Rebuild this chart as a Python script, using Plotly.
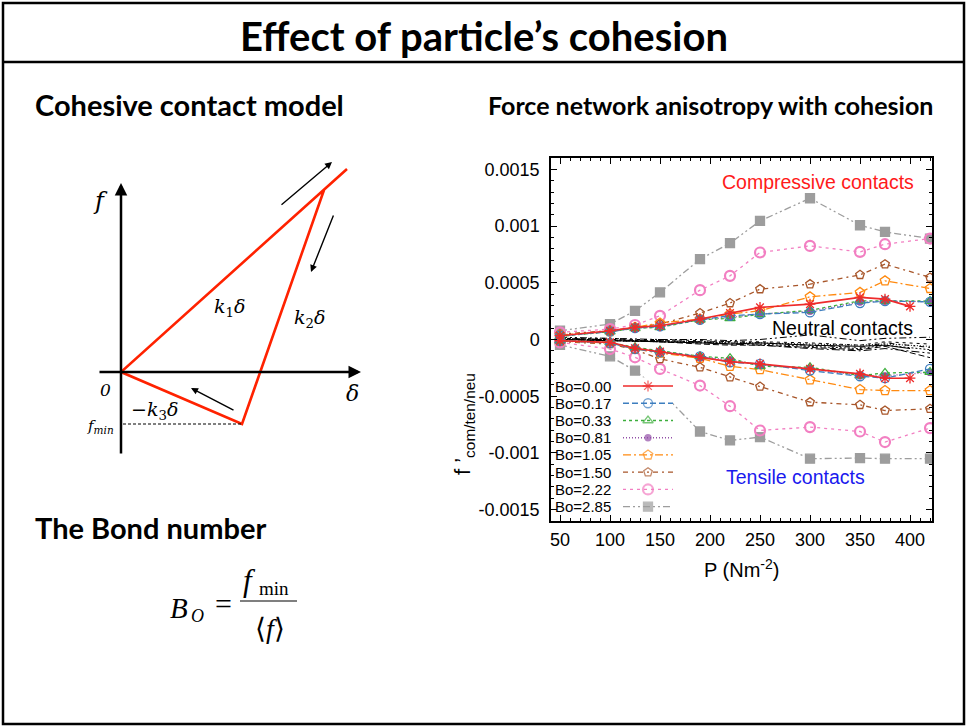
import plotly.graph_objects as go

W, H = 968, 727

# ---------------- chart data: f' (x1e-3) versus confining pressure P ----------------
P_full = [50, 100, 125, 150, 190, 220, 250, 300, 350, 375, 420]
P_bo0 = [50, 100, 125, 150, 190, 220, 250, 300, 350, 375, 400]

bond_numbers = ["0.00", "0.17", "0.33", "0.81", "1.05", "1.50", "2.22", "2.85"]

com_000 = [0.033, 0.077, 0.107, 0.121, 0.180, 0.233, 0.283, 0.312, 0.371, 0.356, 0.292]
com_017 = [0.033, 0.069, 0.101, 0.116, 0.174, 0.209, 0.224, 0.239, 0.321, 0.339, 0.332]
com_033 = [0.028, 0.069, 0.099, 0.107, 0.174, 0.186, 0.222, 0.257, 0.341, 0.341, 0.339]
com_081 = [0.030, 0.070, 0.100, 0.110, 0.175, 0.195, 0.225, 0.250, 0.330, 0.338, 0.334]
com_105 = [0.040, 0.069, 0.107, 0.145, 0.180, 0.224, 0.253, 0.376, 0.415, 0.517, 0.450]
com_150 = [0.048, 0.077, 0.107, 0.136, 0.233, 0.321, 0.444, 0.488, 0.570, 0.664, 0.547]
com_222 = [0.063, 0.092, 0.128, 0.209, 0.435, 0.561, 0.767, 0.825, 0.772, 0.840, 0.890]
com_285 = [0.077, 0.136, 0.253, 0.415, 0.708, 0.849, 1.045, 1.245, 1.007, 0.948, 0.890]

ten_000 = [-0.011, -0.025, -0.077, -0.107, -0.157, -0.195, -0.215, -0.259, -0.303, -0.341, -0.341]
ten_017 = [-0.011, -0.031, -0.084, -0.113, -0.148, -0.201, -0.215, -0.274, -0.324, -0.341, -0.259]
ten_033 = [-0.011, -0.025, -0.069, -0.098, -0.148, -0.165, -0.236, -0.245, -0.318, -0.295, -0.288]
ten_081 = [-0.011, -0.028, -0.075, -0.105, -0.150, -0.180, -0.225, -0.255, -0.320, -0.320, -0.290]
ten_105 = [-0.013, -0.031, -0.084, -0.119, -0.165, -0.236, -0.266, -0.356, -0.441, -0.450, -0.450]
ten_150 = [-0.019, -0.040, -0.090, -0.171, -0.245, -0.333, -0.415, -0.552, -0.576, -0.626, -0.611]
ten_222 = [-0.025, -0.084, -0.157, -0.259, -0.406, -0.588, -0.802, -0.772, -0.811, -0.904, -0.781]
ten_285 = [-0.048, -0.148, -0.274, -0.450, -0.811, -0.890, -0.860, -1.051, -1.045, -1.051, -1.051]

neu_000 = [0.00, -0.01, -0.01, -0.02, -0.03, -0.04, -0.03, -0.05, -0.06, -0.05, -0.08]
neu_017 = [0.00, -0.01, -0.02, -0.02, -0.04, -0.05, -0.05, -0.07, -0.09, -0.06, -0.16]
neu_033 = [0.01, 0.00, -0.01, -0.02, -0.03, -0.03, -0.04, -0.06, -0.08, -0.05, -0.09]
neu_081 = [0.00, -0.01, -0.01, -0.02, -0.02, -0.03, -0.03, -0.04, -0.05, -0.04, -0.06]
neu_105 = [0.00, 0.00, -0.01, -0.01, -0.02, -0.04, -0.05, -0.08, -0.10, -0.08, -0.12]
neu_150 = [0.01, 0.00, 0.00, -0.01, -0.02, -0.02, -0.03, -0.05, -0.07, -0.03, -0.07]
neu_222 = [0.01, 0.01, 0.00, 0.00, -0.01, -0.02, -0.02, -0.03, -0.05, -0.02, -0.04]
neu_285 = [0.02, 0.01, 0.01, 0.00, 0.00, -0.01, 0.00, 0.04, -0.01, 0.01, 0.02]

y_ticks = [-0.0015, -0.001, -0.0005, 0, 0.0005, 0.001, 0.0015]
y_tick_labels = ["-0.0015", "-0.001", "-0.0005", "0", "0.0005", "0.001", "0.0015"]
x_ticks = [50, 100, 150, 200, 250, 300, 350, 400]

# ---------------- cohesive contact law (schematic units) ----------------
law_delta = [22.6, 0.0, 12.1, 20.3]
law_force = [20.3, 0.0, -5.2, 18.2]
f_min = -5.2
delta_at_fmin = 12.1

# per-series style
styles = {
    "0.00": dict(color="#ee2b2b", dash="solid", symbol="asterisk-open", size=9, lw=1.6),
    "0.17": dict(color="#3d7ebf", dash="6px,3px", symbol="circle-open", size=9, lw=1.3),
    "0.33": dict(color="#3cae3c", dash="3px,3px", symbol="triangle-up-open", size=9, lw=1.3),
    "0.81": dict(color="#9350a8", dash="1px,2px", symbol="circle", size=6, lw=1.3),
    "1.05": dict(color="#ff8a10", dash="8px,3px,2px,3px", symbol="pentagon-open", size=10, lw=1.3),
    "1.50": dict(color="#a8562a", dash="5px,4px,2px,4px", symbol="pentagon-open", size=9, lw=1.3),
    "2.22": dict(color="#f27fc2", dash="3px,4px", symbol="circle-open", size=10, lw=1.3),
    "2.85": dict(color="#9d9d9d", dash="7px,3px,2px,3px,2px,3px", symbol="square", size=9, lw=1.3),
}
neutral_dashes = ["solid", "6px,3px", "2px,2px", "1px,2px", "8px,3px,2px,3px",
                  "5px,4px,2px,4px", "3px,4px", "7px,3px,2px,3px,2px,3px"]

com = [com_000, com_017, com_033, com_081, com_105, com_150, com_222, com_285]
ten = [ten_000, ten_017, ten_033, ten_081, ten_105, ten_150, ten_222, ten_285]
neu = [neu_000, neu_017, neu_033, neu_081, neu_105, neu_150, neu_222, neu_285]

fig = go.Figure()

# neutral contacts first (black, underneath)
for i, bo in enumerate(bond_numbers):
    P = P_bo0 if bo == "0.00" else P_full
    fig.add_trace(go.Scatter(
        x=P, y=[v * 1e-3 for v in neu[i]], mode="lines",
        line=dict(color="black", width=1, dash=neutral_dashes[i]),
        showlegend=False, hoverinfo="skip", xaxis="x", yaxis="y"))

# compressive and tensile branches, drawn from the largest Bond number down
for i in reversed(range(len(bond_numbers))):
    bo = bond_numbers[i]
    st = styles[bo]
    P = P_bo0 if bo == "0.00" else P_full
    for series in (com[i], ten[i]):
        fig.add_trace(go.Scatter(
            x=P, y=[v * 1e-3 for v in series], mode="lines+markers",
            line=dict(color=st["color"], width=st["lw"], dash=st["dash"]),
            marker=dict(symbol=st["symbol"], size=st["size"], color=st["color"],
                        line=dict(color=st["color"], width=2.2 if bo == "2.22" else 1.3)),
            showlegend=False, name="Bo=" + bo, xaxis="x", yaxis="y"))

# key samples, one row per Bond number
for i, bo in enumerate(bond_numbers):
    st = styles[bo]
    fig.add_trace(go.Scatter(
        x=[0, 0.5, 1], y=[i, i, i], mode="lines+markers",
        line=dict(color=st["color"], width=st["lw"], dash=st["dash"]),
        marker=dict(symbol=st["symbol"], size=[0, st["size"], 0], color=st["color"],
                    line=dict(color=st["color"], width=2.2 if bo == "2.22" else 1.3)),
        showlegend=False, hoverinfo="skip", xaxis="x3", yaxis="y3"))

# contact law diagram
fig.add_trace(go.Scatter(
    x=law_delta, y=law_force, mode="lines",
    line=dict(color="#ff2200", width=2.6), showlegend=False, hoverinfo="skip",
    xaxis="x2", yaxis="y2"))
fig.add_trace(go.Scatter(
    x=[0.2, delta_at_fmin], y=[f_min, f_min], mode="lines",
    line=dict(color="black", width=1, dash="3px,2px"), showlegend=False,
    hoverinfo="skip", xaxis="x2", yaxis="y2"))


def px(x):
    return x / W


def py(y):
    return 1 - y / H


annotations = []
shapes = []


def ptext(t, x, y, family, size, color="black", anchor="center", angle=0):
    annotations.append(dict(text=t, x=px(x), y=py(y), xref="paper", yref="paper",
                            showarrow=False, xanchor=anchor, yanchor="middle",
                            textangle=angle, font=dict(family=family, size=size, color=color)))


# slide frame and heading bar
shapes.append(dict(type="rect", xref="paper", yref="paper", x0=px(3), x1=px(964),
                   y0=py(724), y1=py(3), line=dict(color="black", width=2.5)))
shapes.append(dict(type="line", xref="paper", yref="paper", x0=px(3), x1=px(964),
                   y0=py(62), y1=py(62), line=dict(color="black", width=2.5)))

HEAD = "Lato"
ptext("<b>Effect of particle’s cohesion</b>", 484, 36, HEAD, 40)
ptext("<b>Cohesive contact model</b>", 33, 104, HEAD, 29, anchor="left")
ptext("<b>The Bond number</b>", 33, 527, HEAD, 29, anchor="left")
ptext("<b>Force network anisotropy with cohesion</b>", 486, 105, HEAD, 25, anchor="left")

# Bond number formula
SERIF = "Liberation Serif"
ptext("<i>B</i>", 179, 608, SERIF, 29)
ptext("<i>O</i>", 197, 616, SERIF, 18)
ptext("=", 223, 603, SERIF, 30)
ptext("<i>f</i>", 250, 580, SERIF, 31)
ptext("min", 274, 588, SERIF, 19)
ptext("⟨<i>f</i>⟩", 270, 628, SERIF, 28)
shapes.append(dict(type="line", xref="paper", yref="paper", x0=px(240), x1=px(297),
                   y0=py(601), y1=py(601), line=dict(color="black", width=1.2)))


# diagram axes and arrows
def arrow(x0, y0, x1, y1, width):
    annotations.append(dict(x=x1, y=y1, ax=x0, ay=y0, xref="x2", yref="y2",
                            axref="x2", ayref="y2", text="", showarrow=True,
                            arrowhead=2, arrowsize=1.0, arrowwidth=width,
                            arrowcolor="black"))


arrow(0, -8.3, 0, 18.9, 2.5)
arrow(-2.3, 0, 24.0, 0, 2.5)
arrow(15.9, 16.6, 21.1, 21.0, 1.4)
arrow(21.3, 15.8, 19.0, 10.0, 1.4)
arrow(11.4, -3.9, 7.0, -1.6, 1.4)

MATH = "DejaVu Serif"


def dlabel(t, x, y, size, anchor="center"):
    annotations.append(dict(text=t, x=x, y=y, xref="x2", yref="y2", showarrow=False,
                            xanchor=anchor, yanchor="middle",
                            font=dict(family=MATH, size=size, color="black")))


dlabel("<i>f</i>", -2.1, 17.1, 24)
dlabel("<i>δ</i>", 23.1, -2.1, 22)
dlabel("<i>0</i>", -1.6, -1.8, 17)
dlabel("<i>k</i><sub>1</sub><i>δ</i>", 10.8, 6.5, 19)
dlabel("<i>k</i><sub>2</sub><i>δ</i>", 18.8, 5.4, 19)
dlabel("−<i>k</i><sub>3</sub><i>δ</i>", 3.3, -3.8, 19)
dlabel("<i>f</i><sub><i>min</i></sub>", -0.5, -5.4, 15, anchor="right")

# chart labels
SANS = "Liberation Sans"
ptext("P (Nm<sup>-2</sup>)", 741, 568, SANS, 20)
ptext("f ’<sub>com/ten/neu</sub>", 464, 424, SANS, 22, angle=-90)
ptext("Compressive contacts", 818, 182, SANS, 19.5, color="#ff1a1a")
ptext("Neutral contacts", 842, 328, SANS, 19.5)
ptext("Tensile contacts", 795, 477, SANS, 19.5, color="#1a1aee")
for i, bo in enumerate(bond_numbers):
    annotations.append(dict(text="Bo=" + bo, x=px(613), y=i, xref="paper", yref="y3",
                            xanchor="right", yanchor="middle", showarrow=False,
                            font=dict(family=SANS, size=15, color="black")))

tick_font = dict(family=SANS, size=18, color="black")
fig.update_layout(
    width=W, height=H, margin=dict(l=0, r=0, t=0, b=0),
    paper_bgcolor="white", plot_bgcolor="white", showlegend=False,
    xaxis=dict(domain=[px(551), px(932)], range=[41, 422], tickvals=x_ticks,
               ticks="inside", ticklen=6, tickwidth=1, tickcolor="black",
               showline=True, linecolor="black", linewidth=1.5, mirror="allticks",
               showgrid=False, zeroline=False, tickfont=tick_font, ticklabelstandoff=2,
               minor=dict(ticks="inside", ticklen=3, dtick=10, tick0=0, tickcolor="black",
                          showgrid=False)),
    yaxis=dict(domain=[py(521), py(158)], range=[-0.0016, 0.0016], tickvals=y_ticks,
               ticktext=y_tick_labels, ticks="inside", ticklen=6, tickwidth=1,
               tickcolor="black", showline=True, linecolor="black", linewidth=1.5,
               mirror="allticks", showgrid=False, zeroline=False, tickfont=tick_font,
               ticklabelstandoff=6,
               minor=dict(ticks="inside", ticklen=3, dtick=0.0001, tick0=0,
                          tickcolor="black", showgrid=False)),
    xaxis2=dict(domain=[px(90), px(370)], range=[-3.1, 24.9], visible=False, anchor="y2"),
    yaxis2=dict(domain=[py(460), py(160)], range=[-8.8, 21.2], visible=False, anchor="x2"),
    xaxis3=dict(domain=[px(623), px(673)], range=[0, 1], visible=False, anchor="y3"),
    yaxis3=dict(domain=[py(515.3), py(377.4)], range=[7.5, -0.5], visible=False, anchor="x3"),
    annotations=annotations, shapes=shapes,
)

fig.write_html("out.html")
